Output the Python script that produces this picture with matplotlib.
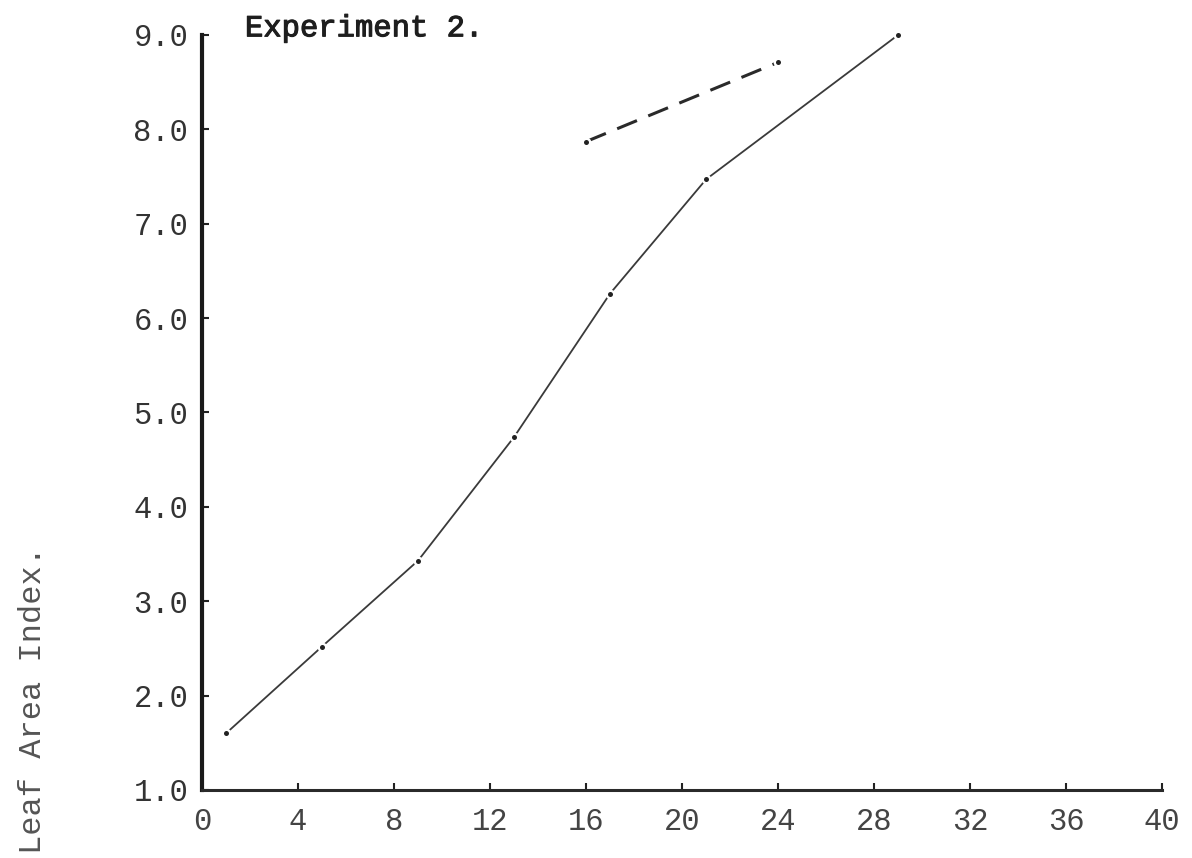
import matplotlib
matplotlib.use("Agg")
import matplotlib.pyplot as plt
import matplotlib.patheffects as pe

# leaf area index, experiment 2
days = [1, 5, 9, 13, 17, 21, 29]
lai = [1.6, 2.52, 3.43, 4.74, 6.26, 7.47, 9.0]

# dashed comparison line
days_b = [16, 24]
lai_b = [7.87, 8.71]

xticks = [0, 4, 8, 12, 16, 20, 24, 28, 32, 36, 40]
yticks = [1.0, 2.0, 3.0, 4.0, 5.0, 6.0, 7.0, 8.0, 9.0]

mono = ["Liberation Mono", "DejaVu Sans Mono"]

fig = plt.figure(figsize=(11.92, 8.58), dpi=100)
ax = fig.add_axes([0.1695, 0.0793, 0.8055, 0.880])

ax.plot(days, lai, color="#3a3a3a", lw=1.3, zorder=3)
ax.plot(days_b, lai_b, color="#2a2a2a", lw=2.2, dashes=(7, 4), zorder=3)

# typed dots with a small gap round each point
for xs, ys in [(days, lai), (days_b, lai_b)]:
    ax.plot(xs, ys, ls="none", marker="o", ms=7, mfc="white", mec="none", zorder=4, clip_on=False)
    ax.plot(xs, ys, ls="none", marker="o", ms=3.6, mfc="#222222", mec="none", zorder=5, clip_on=False)

ax.set_xlim(0, 40)
ax.set_ylim(1.0, 9.0)
ax.set_xticks(xticks)
ax.set_yticks(yticks)
ax.set_xticklabels([str(t) for t in xticks], family=mono, fontsize=22, color="#444444")
ax.set_yticklabels(["%.1f" % t for t in yticks], family=mono, fontsize=22, color="#333333")

for s in ["top", "right"]:
    ax.spines[s].set_visible(False)
ax.spines["left"].set_linewidth(3.0)
ax.spines["bottom"].set_linewidth(2.2)
ax.spines["left"].set_color("#1a1a1a")
ax.spines["bottom"].set_color("#2a2a2a")

ax.tick_params(axis="both", direction="in", length=5, width=1.5, color="#222222")
ax.tick_params(axis="y", pad=10)
ax.tick_params(axis="x", pad=12)

fig.text(0.2055, 0.967, "Experiment 2.", family=mono, fontsize=22,
         color="#1e1e1e", va="center", ha="left",
         path_effects=[pe.withStroke(linewidth=0.8, foreground="#1e1e1e")])
fig.text(0.028, 0.184, "Leaf Area Index.", family=mono, fontsize=23,
         color="#555555", rotation=90, va="center", ha="center")

fig.savefig("out.png", dpi=100, facecolor="white")
